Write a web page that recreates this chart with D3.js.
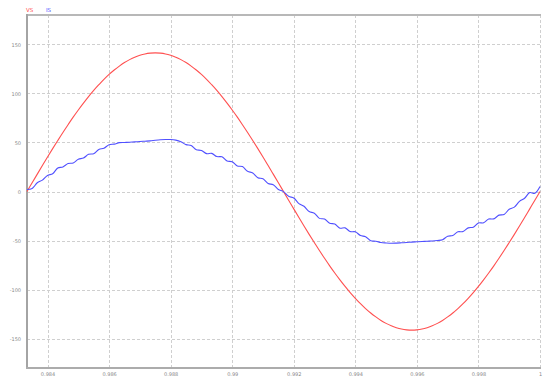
<!DOCTYPE html>
<html>
<head>
<meta charset="utf-8">
<script src="https://cdn.jsdelivr.net/npm/d3@7/dist/d3.min.js"></script>
<style>
  html, body { margin: 0; padding: 0; background: #fff; }
  svg { display: block; font-family: "DejaVu Sans", Arial, sans-serif; }
</style>
</head>
<body>
<svg id="chart" width="544" height="376"></svg>
<script>
// ---- data ----
const time = [
  0.983333,0.9835,0.983667,0.983833,
  0.984,0.984167,0.984333,0.9845,0.984667,0.984833,
  0.985,0.985167,0.985333,0.9855,0.985667,0.985833,
  0.986,0.986167,0.986333,0.9865,0.986667,0.986833,
  0.987,0.987167,0.987333,0.9875,0.987667,0.987833,
  0.988,0.988167,0.988333,0.9885,0.988667,0.988833,
  0.989,0.989167,0.989333,0.9895,0.989667,0.989833,
  0.99,0.990167,0.990333,0.9905,0.990667,0.990833,
  0.991,0.991167,0.991333,0.9915,0.991667,0.991833,
  0.992,0.992167,0.992333,0.9925,0.992667,0.992833,
  0.993,0.993167,0.993333,0.9935,0.993667,0.993833,
  0.994,0.994167,0.994333,0.9945,0.994667,0.994833,
  0.995,0.995167,0.995333,0.9955,0.995667,0.995833,
  0.996,0.996167,0.996333,0.9965,0.996667,0.996833,
  0.997,0.997167,0.997333,0.9975,0.997667,0.997833,
  0.998,0.998167,0.998333,0.9985,0.998667,0.998833,
  0.999,0.999167,0.999333,0.9995,0.999667,0.999833,
  1
];
const vsValues = [
  0,8.9,17.7,26.5,35.2,43.7,52.0,60.2,68.1,75.8,83.1,90.1,96.8,103.1,108.9,114.4,119.4,123.9,127.9,131.5,134.5,137.0,138.9,140.3,141.1,141.4,
  141.1,140.3,138.9,137.0,134.5,131.5,127.9,123.9,119.4,114.4,108.9,103.1,96.8,90.1,83.1,75.8,68.1,60.2,52.0,43.7,35.2,26.5,17.7,8.9,0,
  -8.9,-17.7,-26.5,-35.2,-43.7,-52.0,-60.2,-68.1,-75.8,-83.1,-90.1,-96.8,-103.1,-108.9,-114.4,-119.4,-123.9,-127.9,-131.5,-134.5,-137.0,-138.9,-140.3,-141.1,-141.4,
  -141.1,-140.3,-138.9,-137.0,-134.5,-131.5,-127.9,-123.9,-119.4,-114.4,-108.9,-103.1,-96.8,-90.1,-83.1,-75.8,-68.1,-60.2,-52.0,-43.7,-35.2,-26.5,-17.7,-8.9,0
];
const isValues = [
  2,3.1,8.9,11.6,16.4,18.1,23.9,25.1,28.5,29.1,32.9,34.1,37.9,38.6,42.9,44.1,47.7,48.3,49.8,50,
  50.3,50.6,51,51.3,51.6,52.2,52.7,53,53,52.4,50.8,47.8,46.9,42.6,41.9,38.6,38.9,35.6,35.4,31.1,
  30.4,26.1,25.4,20.6,18.9,14.1,12.9,8.1,6.9,2.1,-0.1,-4.9,-6.6,-12.4,-15.1,-20.4,-22.1,-27.4,-28.1,-32.4,
  -33.1,-37.4,-37.1,-40.9,-41.1,-44.9,-46.1,-50.2,-50.7,-52,-52.5,-52.8,-52.6,-52.3,-52,-51.6,-51.3,-51,-50.7,-50.5,
  -50,-49.2,-45.6,-44.9,-41.1,-40.9,-37.1,-36.4,-32.1,-31.9,-28.1,-27.9,-24.1,-23.4,-18.1,-15.9,-10.1,-6.9,-1.1,-1.9,
  5
];
const seriesNames = ["VS", "IS"];
const seriesColors = ["#ff5050", "#5050ff"];
const xTicks = [0.984, 0.986, 0.988, 0.99, 0.992, 0.994, 0.996, 0.998, 1];
const yTicks = [-150, -100, -50, 0, 50, 100, 150];

// ---- chart ----
(function () {
const svg = d3.select("#chart");
const mLeft = 27, mRight = 540, mTop = 15, mBottom = 368;
const x = d3.scaleLinear().domain([0.983333, 1.0]).range([mLeft, mRight]);
const y = d3.scaleLinear().domain([-180, 180]).range([mBottom, mTop]);

// grid
const grid = svg.append("g");
grid.selectAll("line.v").data(xTicks).join("line")
  .attr("x1", d => Math.round(x(d)) + 0.5).attr("x2", d => Math.round(x(d)) + 0.5)
  .attr("y1", mTop).attr("y2", mBottom)
  .attr("stroke", "#cfcfcf").attr("stroke-width", 1).attr("stroke-dasharray", "3,2");
grid.selectAll("line.h").data(yTicks).join("line")
  .attr("x1", mLeft).attr("x2", mRight)
  .attr("y1", d => Math.round(y(d)) + 0.5).attr("y2", d => Math.round(y(d)) + 0.5)
  .attr("stroke", "#cfcfcf").attr("stroke-width", 1).attr("stroke-dasharray", "3,2");

// frame
svg.append("line").attr("x1", mLeft).attr("x2", mRight + 1).attr("y1", mTop).attr("y2", mTop)
  .attr("stroke", "#b8b8b8").attr("stroke-width", 2);
svg.append("line").attr("x1", mLeft).attr("x2", mLeft).attr("y1", mTop - 1).attr("y2", mBottom + 1)
  .attr("stroke", "#a4a4a4").attr("stroke-width", 2);
svg.append("line").attr("x1", mLeft - 1).attr("x2", mRight + 1).attr("y1", mBottom).attr("y2", mBottom)
  .attr("stroke", "#acacac").attr("stroke-width", 2);

// axes labels via d3 axes
const xAxis = d3.axisBottom(x).tickValues(xTicks).tickSize(0).tickPadding(4)
  .tickFormat(d => String(d));
svg.append("g").attr("transform", `translate(0,${mBottom})`).call(xAxis)
  .call(g => g.select(".domain").remove())
  .call(g => g.selectAll("text").attr("font-size", 5).attr("fill", "#888").attr("font-family", "DejaVu Sans, sans-serif"));

const yAxis = d3.axisLeft(y).tickValues(yTicks).tickSize(0).tickPadding(6)
  .tickFormat(d => String(d));
svg.append("g").attr("transform", `translate(${mLeft},0)`).call(yAxis)
  .call(g => g.select(".domain").remove())
  .call(g => g.selectAll("text").attr("font-size", 5).attr("fill", "#888").attr("font-family", "DejaVu Sans, sans-serif"));

// lines
const seriesData = [vsValues, isValues];
const line = d3.line().x(d => x(d[0])).y(d => y(d[1])).curve(d3.curveCatmullRom.alpha(0.5));
seriesData.forEach((vals, i) => {
  svg.append("path")
    .datum(time.map((t, j) => [t, vals[j]]))
    .attr("fill", "none").attr("stroke", seriesColors[i]).attr("stroke-width", 1.1)
    .attr("d", line);
});

// legend
const leg = svg.append("g");
leg.selectAll("text").data(seriesNames).join("text")
  .attr("x", (d, i) => 26 + i * 20).attr("y", 12)
  .attr("font-size", 5.5).attr("fill", (d, i) => seriesColors[i])
  .attr("font-family", "DejaVu Sans, sans-serif")
  .text(d => d);
})();
</script>
</body>
</html>
